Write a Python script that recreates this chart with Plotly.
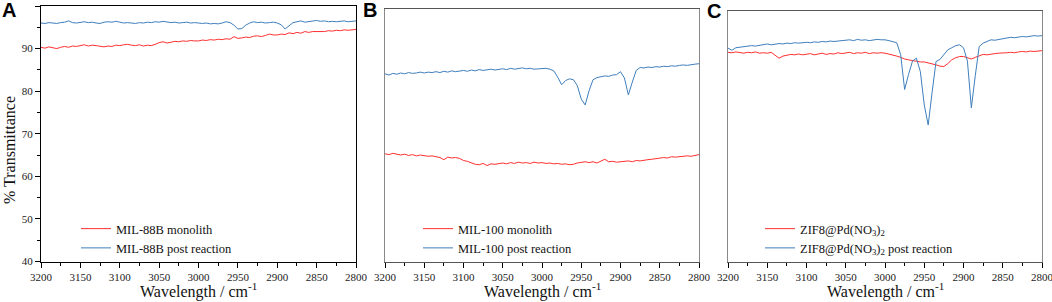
import plotly.graph_objects as go

W, H = 1052, 302
wn = list(range(3200, 2795, -5))  # sampling grid, cm-1

a_mono = [90.3, 90.1, 90.4, 90.2, 90.0, 90.3, 90.5, 90.3, 90.6, 90.5,
          90.7, 90.9, 90.6, 90.8, 90.7, 90.5, 90.4, 90.6, 90.5, 90.8,
          90.7, 90.9, 91.0, 90.8, 90.7, 90.9, 90.6, 90.8, 90.7, 91.0,
          91.4, 91.6, 91.3, 91.5, 91.7, 91.6, 91.8, 91.7, 91.9, 91.8,
          91.8, 92.0, 91.9, 92.1, 92.0, 92.2, 92.1, 92.3, 92.2, 92.8,
          92.4, 92.5, 92.7, 92.6, 92.9, 93.0, 92.8, 93.1, 93.4, 93.2,
          93.2, 93.4, 93.3, 93.7, 93.5, 93.8, 93.6, 94.0, 93.8, 94.0,
          94.0, 94.1, 94.0, 94.2, 94.1, 94.3, 94.2, 94.4, 94.3, 94.4,
          94.5]
a_post = [96.0, 95.9, 96.1, 96.0, 95.9, 96.1, 96.2, 96.5, 96.1, 96.0,
          96.2, 96.3, 96.1, 96.2, 96.0, 95.9, 96.2, 96.3, 96.2, 96.4,
          96.2, 96.0, 96.1, 96.0, 95.9, 96.1, 96.0, 96.2, 96.1, 96.3,
          96.2, 96.4, 96.3, 96.1, 96.2, 96.0, 96.1, 96.2, 96.0, 96.1,
          96.0, 95.9, 96.0, 95.8, 95.9, 95.8, 96.0, 96.3, 96.1, 95.5,
          94.6, 94.7, 95.5, 96.0, 96.3, 96.1, 96.2, 96.0, 96.1, 96.2,
          96.0, 95.6, 94.6, 95.4, 96.1, 96.3, 96.5, 96.2, 96.3, 96.4,
          96.6, 96.4, 96.5, 96.3, 96.4, 96.3, 96.4, 96.5, 96.3, 96.4,
          96.5]
b_mono = [65.6, 65.4, 65.7, 65.5, 65.3, 65.5, 65.2, 65.4, 65.1, 65.3,
          65.2, 65.0, 65.1, 64.9, 64.7, 64.2, 64.8, 64.6, 64.7, 64.5,
          64.0, 63.8, 63.5, 63.1, 63.0, 63.3, 62.8, 63.2, 63.1, 63.3,
          63.4, 63.2, 63.5, 63.3, 63.6, 63.4, 63.5, 63.3, 63.6, 63.4,
          63.5, 63.3, 63.4, 63.2, 63.3, 63.1, 63.2, 63.0, 63.1, 63.4,
          63.6, 63.7, 63.5, 63.7, 63.4, 63.8, 64.3, 63.7, 63.8, 63.6,
          63.7, 63.8, 63.9, 63.7, 64.0, 63.9, 64.1, 64.2, 64.3, 64.4,
          64.5, 64.7, 64.6, 64.9, 64.8, 64.9, 65.0, 65.1, 65.0, 65.2,
          65.4]
b_post = [84.6, 84.3, 84.7, 84.5, 84.8, 84.6, 84.9, 84.7, 84.8, 85.0,
          84.8, 85.0, 84.9, 85.1, 84.9, 85.2, 85.0, 85.3, 85.1, 85.3,
          85.4, 85.2, 85.5, 85.3, 85.6, 85.4, 85.5, 85.7, 85.5, 85.6,
          85.8, 85.6, 85.9, 85.7, 85.8, 86.0, 85.8, 85.9, 85.7, 85.8,
          85.8, 85.9, 85.7, 85.3, 83.8, 82.0, 83.0, 83.4, 83.2, 81.8,
          78.6, 77.2, 80.6, 83.2, 83.7, 83.9, 84.1, 84.0, 84.3, 84.4,
          85.1, 83.6, 79.6, 82.6, 85.4, 86.1, 86.0, 86.2, 86.1, 86.3,
          86.2, 86.4, 86.3, 86.5, 86.4, 86.6, 86.7, 86.6, 86.8, 86.9,
          87.0]
c_mono = [90.1, 90.0, 90.2, 90.1, 89.9, 90.1, 90.0, 90.2, 89.9, 90.0,
          89.9, 90.1, 89.5, 88.7, 89.2, 89.4, 89.6, 89.5, 89.7, 89.5,
          89.6, 89.8, 89.5, 89.7, 89.9, 89.6, 89.8, 89.7, 90.0, 89.8,
          89.9, 90.1, 89.8, 90.0, 89.9, 90.1, 89.8, 90.0, 89.9, 90.0,
          89.9, 89.7, 89.5, 89.2, 88.9, 88.5, 88.3, 88.1, 87.9, 87.8,
          87.8, 87.6, 87.3, 87.1, 86.8, 86.7, 87.4, 88.3, 88.8, 89.1,
          89.1, 88.8, 88.5, 88.9, 89.3, 89.6, 89.5, 89.7, 89.8, 89.9,
          89.9, 90.0, 90.1, 90.0, 90.2, 90.3, 90.2, 90.4, 90.3, 90.4,
          90.5]
c_post = [91.1, 90.6, 91.2, 91.3, 91.4, 91.5, 91.7, 91.6, 91.8, 91.9,
          92.1, 91.9, 92.0, 92.2, 92.1, 92.3, 92.2, 92.4, 92.3, 92.4,
          92.5, 92.4, 92.6, 92.5, 92.7, 92.6, 92.8, 92.7, 92.8, 92.9,
          92.9, 93.1, 92.9, 93.2, 93.0, 93.1, 92.9, 93.0, 93.2, 93.1,
          93.1, 92.9, 92.7, 92.4, 89.5, 81.2, 84.8, 88.0, 88.7, 85.5,
          77.5, 72.7, 80.5, 87.9, 88.4, 89.6, 90.7, 91.2, 91.7, 91.9,
          91.2, 88.0, 76.8, 84.5, 91.5, 92.3, 92.8, 93.1, 93.0, 93.2,
          93.3, 93.5, 93.7, 93.6, 93.8, 93.9, 93.8, 94.0, 94.1, 94.0,
          94.1]

panels = ["A", "B", "C"]
mono_names = ["MIL-88B monolith", "MIL-100 monolith", "ZIF8@Pd(NO<sub>3</sub>)<sub>2</sub>"]
post_names = ["MIL-88B post reaction", "MIL-100 post reaction",
              "ZIF8@Pd(NO<sub>3</sub>)<sub>2</sub> post reaction"]
mono_series = [a_mono, b_mono, c_mono]
post_series = [a_post, b_post, c_post]

RED = "#ff3030"
BLUE = "#3f7fbb"
SERIF = "Liberation Serif, Times New Roman, serif"

def px(x):
    return x / W

def py(y):
    return 1 - y / H

x_dom = [(41, 356), (385, 699), (728, 1042)]
y_top = [6, 9, 11]
y_bot = 261.5

fig = go.Figure()
legend_names = ["legend", "legend2", "legend3"]
for i in range(3):
    xa = "x" if i == 0 else f"x{i+1}"
    ya = "y" if i == 0 else f"y{i+1}"
    fig.add_trace(go.Scatter(x=wn, y=mono_series[i], mode="lines", name=mono_names[i],
                             line=dict(color=RED, width=1), xaxis=xa, yaxis=ya,
                             legend=legend_names[i], legendgroup=f"m{i}"))
    fig.add_trace(go.Scatter(x=wn, y=post_series[i], mode="lines", name=post_names[i],
                             line=dict(color=BLUE, width=1), xaxis=xa, yaxis=ya,
                             legend=legend_names[i], legendgroup=f"p{i}"))

layout = dict(width=W, height=H, autosize=False, template="none",
              margin=dict(l=0, r=0, t=0, b=0, autoexpand=False),
              paper_bgcolor="white", plot_bgcolor="white",
              font=dict(family=SERIF, size=11, color="#222"),
              showlegend=True, hovermode=False)

for i in range(3):
    sfx = "" if i == 0 else str(i + 1)
    xlc = "#000" if i == 0 else "#555"
    ylc = "#000" if i == 0 else "#888"
    layout["xaxis" + sfx] = dict(
        domain=[px(x_dom[i][0]), px(x_dom[i][1])], anchor="y" + sfx, automargin=False,
        range=[3200, 2800], tick0=2800, dtick=50, ticks="outside", ticklen=5,
        ticklabeloverflow="allow",
        tickcolor="#000", tickfont=dict(family=SERIF, size=11, color="#222"),
        minor=dict(dtick=25, tick0=2800, ticks="outside", ticklen=3, tickcolor="#000"),
        showline=True, mirror=True, linecolor=xlc, linewidth=1,
        showgrid=False, zeroline=False)
    yax = dict(
        domain=[py(y_bot), py(y_top[i])], anchor="x" + sfx, automargin=False,
        range=[40, 100], showline=True, mirror=True, linecolor=ylc, linewidth=1,
        showgrid=False, zeroline=False)
    if i == 0:
        yax.update(tick0=40, dtick=10, ticks="outside", ticklen=5, tickcolor="#000",
                   tickfont=dict(family=SERIF, size=11, color="#222"),
                   minor=dict(dtick=5, tick0=40, ticks="outside", ticklen=3, tickcolor="#000"))
    else:
        yax.update(showticklabels=False, ticks="")
    layout["yaxis" + sfx] = yax

leg_x = [76, 418, 760]
for i in range(3):
    layout[legend_names[i]] = dict(
        x=px(leg_x[i]), y=py(214), xanchor="left", yanchor="top",
        bgcolor="rgba(0,0,0,0)", borderwidth=0, tracegroupgap=1,
        traceorder="normal", itemclick=False, itemdoubleclick=False,
        font=dict(family=SERIF, size=12.5, color="#111"))

fig.update_layout(**layout)

ann = []
for i in range(3):
    cx = (x_dom[i][0] + x_dom[i][1]) / 2
    ann.append(dict(x=px(cx), y=py(290), xref="paper", yref="paper",
                    text="Wavelength / cm<sup>-1</sup>", showarrow=False,
                    xanchor="center", yanchor="middle",
                    font=dict(family=SERIF, size=16, color="#111")))
letter_pos = [(0, 10), (361, 10), (705, 11)]
for i in range(3):
    ann.append(dict(x=px(letter_pos[i][0]), y=py(letter_pos[i][1]), xref="paper", yref="paper",
                    text=f"<b>{panels[i]}</b>", showarrow=False,
                    xanchor="left", yanchor="middle",
                    font=dict(family="Liberation Sans, Arial, sans-serif", size=20, color="#000")))
ann.append(dict(x=px(9), y=py(150), xref="paper", yref="paper",
                text="% Transmittance", showarrow=False, textangle=-90,
                xanchor="center", yanchor="middle",
                font=dict(family=SERIF, size=16, color="#111")))
fig.update_layout(annotations=ann)

fig.write_html("out.html", config={"displayModeBar": False, "staticPlot": True},
               post_script="document.body.style.margin='0';document.body.style.padding='0';")
